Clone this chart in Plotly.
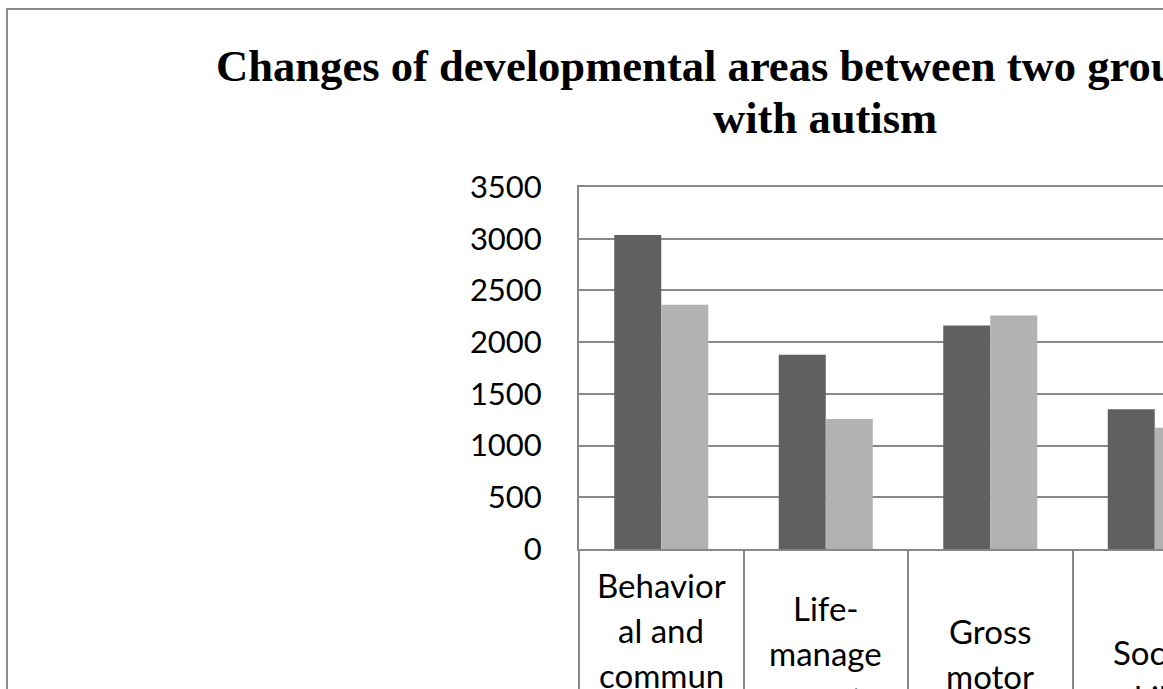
import plotly.graph_objects as go

# ---- data ----
categories = ["Behavioral and communication", "Life-management", "Gross motor", "Social skills"]
label_lines = [
    ["Behavior", "al and", "commun", "ication"],
    ["Life-", "manage", "ment"],
    ["Gross", "motor"],
    ["Social", "skills"],
]
group_a = [3035, 1878, 2162, 1350]
group_b = [2362, 1256, 2258, 1172]
y_ticks = [0, 500, 1000, 1500, 2000, 2500, 3000, 3500]
title_line1 = "Changes of developmental areas between two groups of children"
title_line2 = "with autism"

# ---- layout constants (pixels) ----
W, H = 1163, 689
PL, PT, PB = 579, 187, 549          # plot left, top, bottom (px)
PW = W - PL
PH = PB - PT
CAT_W = 164.5                       # px per category
label_first_line_px = [585, 608, 631, 652]
LINE_H = 45

def py(px):
    return (PB - px) / PH

def pxx(px):
    return (px - PL) / PW

GRID = "#878787"
SANS = "Lato"

fig = go.Figure()
fig.add_trace(go.Bar(x=categories, y=group_a, marker=dict(color="#606060", line=dict(width=0)), name="Group 1"))
fig.add_trace(go.Bar(x=categories, y=group_b, marker=dict(color="#b2b2b2", line=dict(width=0)), name="Group 2"))

x_right = -0.5 + PW / CAT_W

annotations = []
for cat, lines, y0 in zip(categories, label_lines, label_first_line_px):
    for i, ln in enumerate(lines):
        annotations.append(dict(
            x=cat, xref="x", y=py(y0 + i * LINE_H), yref="paper",
            text=ln, showarrow=False, xanchor="center", yanchor="middle",
            font=dict(family=SANS, size=33, color="#000000"),
        ))

annotations.append(dict(
    x=pxx(825), xref="paper", y=py(66), yref="paper", text="<b>%s</b>" % title_line1,
    showarrow=False, xanchor="center", yanchor="middle",
    font=dict(family="Liberation Serif", size=44.6, color="#000000"),
))
annotations.append(dict(
    x=pxx(825), xref="paper", y=py(118), yref="paper", text="<b>%s</b>" % title_line2,
    showarrow=False, xanchor="center", yanchor="middle",
    font=dict(family="Liberation Serif", size=44.6, color="#000000"),
))

fig.update_layout(
    width=W, height=H,
    margin=dict(l=PL, r=0, t=PT, b=H - PB, pad=0, autoexpand=False),
    paper_bgcolor="white", plot_bgcolor="white",
    showlegend=False,
    barmode="group", bargap=0.4286, bargroupgap=0,
    annotations=annotations,
    shapes=[dict(type="rect", xref="paper", yref="paper",
                 x0=pxx(7), x1=2.0, y0=-2.0, y1=py(9),
                 line=dict(color="#8c8c8c", width=2), fillcolor="rgba(0,0,0,0)", layer="above")],
)
fig.update_xaxes(
    range=[-0.5, x_right], showgrid=False, showticklabels=False, automargin=False,
    showline=True, mirror=True, linecolor=GRID, linewidth=2,
    ticks="outside", tickson="boundaries", ticklen=160, tickcolor=GRID, tickwidth=2,
    zeroline=False,
)
fig.update_yaxes(
    range=[0, 3500], tickvals=y_ticks, tickformat="d", automargin=False,
    showgrid=True, gridcolor=GRID, gridwidth=2,
    showline=True, linecolor=GRID, linewidth=2, zeroline=False,
    ticks="", ticklabelstandoff=29,
    tickfont=dict(family=SANS, size=31, color="#000000"),
)

fig.write_html(
    "out.html",
    config={"displayModeBar": False},
    post_script="document.body.style.margin='0';document.body.style.overflow='hidden';",
)
